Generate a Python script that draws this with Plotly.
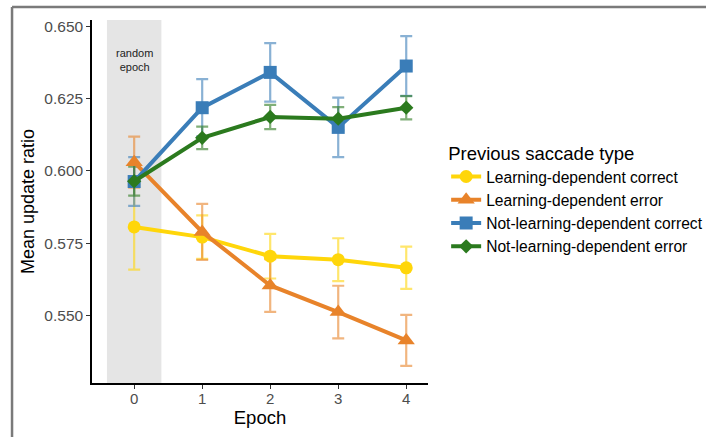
import plotly.graph_objects as go

epochs = [0, 1, 2, 3, 4]
series_names = ["Learning-dependent correct", "Learning-dependent error",
                "Not-learning-dependent correct", "Not-learning-dependent error"]
ld_correct = [0.5806, 0.5771, 0.5705, 0.5693, 0.5665]
ld_correct_err = [0.0147, 0.0075, 0.0077, 0.0074, 0.0073]
ld_error = [0.6030, 0.5789, 0.5604, 0.5512, 0.5414]
ld_error_err = [0.0088, 0.0097, 0.0091, 0.0091, 0.0088]
nld_correct = [0.5963, 0.6218, 0.6340, 0.6150, 0.6362]
nld_correct_err = [0.0084, 0.0099, 0.0101, 0.0103, 0.0103]
nld_error = [0.5964, 0.6114, 0.6186, 0.6180, 0.6218]
nld_error_err = [0.0050, 0.0039, 0.0042, 0.0040, 0.0040]
y_ticks = [0.550, 0.575, 0.600, 0.625, 0.650]

values = [ld_correct, ld_error, nld_correct, nld_error]
errors = [ld_correct_err, ld_error_err, nld_correct_err, nld_error_err]
colors = ["#FFD60A", "#E8832A", "#3A7DB8", "#2B7A1E"]
err_colors = ["rgba(255,214,10,0.6)", "rgba(232,131,42,0.6)",
              "rgba(58,125,184,0.6)", "rgba(43,122,30,0.6)"]
symbols = ["circle", "triangle-up", "square", "diamond"]
sizes = [13, 15, 13, 11]

fig = go.Figure()
for v, e, ec in zip(values, errors, err_colors):
    fig.add_trace(go.Scatter(
        x=epochs, y=v, mode="markers", marker=dict(size=1, opacity=0),
        error_y=dict(type="data", array=e, color=ec, thickness=2.2, width=6),
        showlegend=False, hoverinfo="skip"))
for name, v, c, s, sz in zip(series_names, values, colors, symbols, sizes):
    fig.add_trace(go.Scatter(
        x=epochs, y=v, mode="lines+markers", name=name,
        line=dict(color=c, width=4),
        marker=dict(color=c, symbol=s, size=sz, line=dict(width=0))))

# shaded random epoch
fig.add_shape(type="rect", xref="x", yref="paper", x0=-0.4, x1=0.4, y0=0, y1=1,
              fillcolor="#E5E5E5", line=dict(width=0), layer="below")
fig.add_annotation(x=0, xref="x", y=0.931, yref="paper", text="random<br>epoch",
                   showarrow=False, font=dict(size=11, color="#222222"))
# outer frame (top + left)
fig.add_shape(type="line", xref="paper", yref="paper", x0=-0.238, x1=1.83,
              y0=1.0358, y1=1.0358, line=dict(color="#7A7A7A", width=2.5))
fig.add_shape(type="line", xref="paper", yref="paper", x0=-0.238, x1=-0.238,
              y0=1.0358, y1=-0.16, line=dict(color="#7A7A7A", width=2.5))

fig.update_layout(
    width=706, height=437,
    margin=dict(l=92, r=278, t=20, b=54, autoexpand=False),
    plot_bgcolor="white", paper_bgcolor="white",
    font=dict(family="Liberation Sans, Arial, sans-serif", color="#000000"),
    legend=dict(x=1.054, xanchor="left", y=0.681, yanchor="top",
                title=dict(text="Previous saccade type", font=dict(size=18.5)),
                font=dict(size=15.6), tracegroupgap=0, itemwidth=30,
                bgcolor="rgba(0,0,0,0)"),
    xaxis=dict(range=[-0.62, 4.32], tickvals=epochs, ticktext=[str(e) for e in epochs],
               showgrid=False, zeroline=False, showline=True, linecolor="black",
               linewidth=1.5, ticks="outside", ticklen=4, tickcolor="#333333",
               tickfont=dict(size=15, color="#4D4D4D"), ticklabelstandoff=-3,
               title=dict(text="Epoch", font=dict(size=18.5), standoff=2)),
    yaxis=dict(range=[0.5267, 0.6521], tickvals=y_ticks,
               ticktext=[f"{t:.3f}" for t in y_ticks],
               showgrid=False, zeroline=False, showline=True, linecolor="black",
               linewidth=1.5, ticks="outside", ticklen=4, tickcolor="#333333",
               tickfont=dict(size=15.5, color="#4D4D4D"),
               title=dict(text="Mean update ratio", font=dict(size=18), standoff=5)),
)
fig.write_html("out.html")
